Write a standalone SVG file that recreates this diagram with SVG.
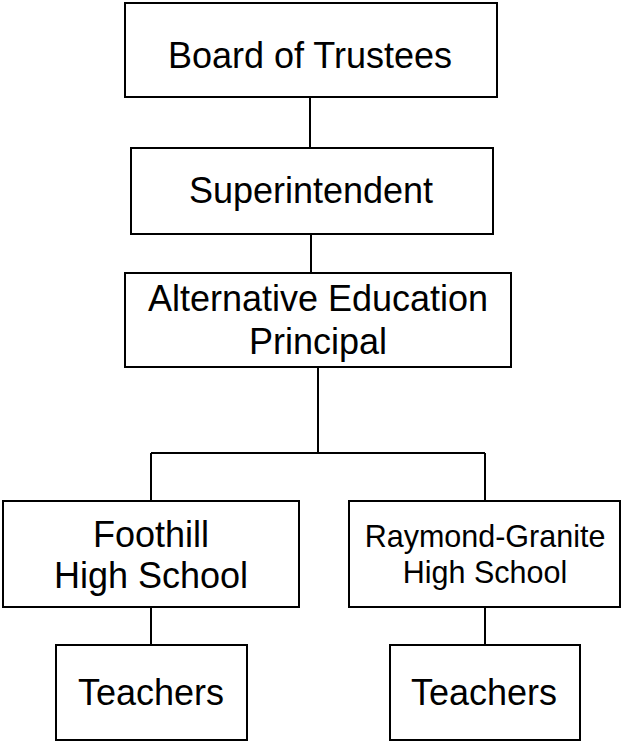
<svg xmlns="http://www.w3.org/2000/svg" width="622" height="742" viewBox="0 0 622 742">
<style>
rect{fill:#fff;stroke:#000;stroke-width:2}
line{stroke:#000;stroke-width:2}
text{font-family:"Liberation Sans",Arial,sans-serif;font-size:36px;fill:#000;text-anchor:middle}
.s{font-size:30.5px}
</style>
<rect width="622" height="742" style="stroke:none"/>
<g id="connectors">
<line x1="310" y1="97" x2="310" y2="148"/>
<line x1="311" y1="234" x2="311" y2="273"/>
<line x1="318" y1="367" x2="318" y2="453"/>
<line x1="151" y1="453" x2="485" y2="453"/>
<line x1="151" y1="453" x2="151" y2="501"/>
<line x1="485" y1="453" x2="485" y2="501"/>
<line x1="151" y1="607" x2="151" y2="645"/>
<line x1="485" y1="607" x2="485" y2="645"/>
</g>
<g id="board"><rect x="125" y="3" width="372" height="94"/><text x="310" y="68">Board of Trustees</text></g>
<g id="superintendent"><rect x="131" y="148" width="362" height="86"/><text x="311" y="203">Superintendent</text></g>
<g id="principal"><rect x="125" y="273" width="386" height="94"/><text x="318" y="311">Alternative Education</text><text x="318" y="354">Principal</text></g>
<g id="foothill"><rect x="3" y="501" width="296" height="106"/><text x="151" y="547">Foothill</text><text x="151" y="588">High School</text></g>
<g id="raymond"><rect x="349" y="501" width="271" height="106"/><text class="s" x="485" y="547">Raymond-Granite</text><text class="s" x="485" y="583">High School</text></g>
<g id="teachers1"><rect x="56" y="645" width="191" height="95"/><text x="151" y="705">Teachers</text></g>
<g id="teachers2"><rect x="390" y="645" width="190" height="95"/><text x="484" y="705">Teachers</text></g>
</svg>
